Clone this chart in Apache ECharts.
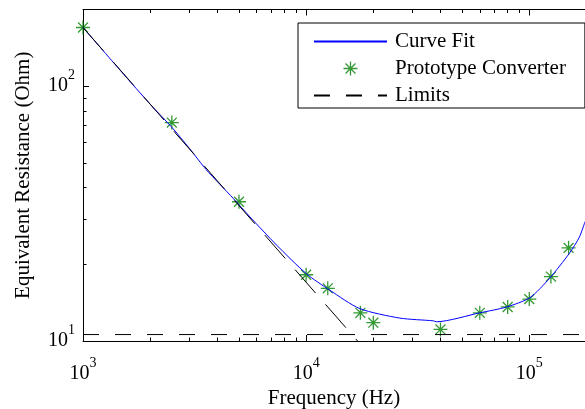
<!DOCTYPE html>
<html>
<head>
<meta charset="utf-8">
<script src="https://cdn.jsdelivr.net/npm/echarts@6/dist/echarts.min.js"></script>
<style>
html,body{margin:0;padding:0;background:#fff}
#chart{width:585px;height:409px}
</style>
</head>
<body>
<div id="chart"></div>
<script>
// measured points (Hz, Ohm)
var measFreq = [1000, 2500, 5000, 10000, 12500, 17500, 20000, 40000, 60000, 80000, 100000, 125000, 150000];
var measRes = [170, 72, 35.2, 18.2, 16.1, 12.9, 11.8, 11.1, 12.9, 13.6, 14.6, 17.9, 23.2];
// curve fit
var fitFreq = [1000, 1500, 2000, 2500, 3000, 3570, 4710, 5600, 7370, 10000, 12800, 17400, 26300, 37100, 38400, 60000, 79200, 100700, 123100, 151300, 167800, 177700];
var fitRes = [170, 113, 85, 69, 57, 47, 36.3, 30.7, 23.8, 18.4, 15.8, 13.4, 12.3, 12.0, 11.9, 12.9, 13.6, 14.8, 17.6, 22.1, 25.6, 29.4];
// limit lines
var floorFreq = [1000, 177700];
var floorRes = [10.6, 10.6];
var slopeFreq = [1000, 17000];
var slopeRes = [170, 10];
// axes
var xMin = 1000, xMax = 177700;
var yMin = 10, yMax = 200;
var xMajor = [1000, 10000, 100000];
var xMinor = [2000, 3000, 4000, 5000, 6000, 7000, 8000, 9000, 20000, 30000, 40000, 50000, 60000, 70000, 80000, 90000];
var yMajor = [10, 100];
var yMinor = [20, 30, 40, 50, 60, 70, 80, 90, 200];

var serif = "'Liberation Serif', 'Times New Roman', serif";
var chart = echarts.init(document.getElementById('chart'));

function pairs(xs, ys) {
	return xs.map(function (x, i) { return [x, ys[i]]; });
}
function powLabel(v) {
	return '{b|10}{s|' + Math.round(Math.log10(v)) + '}';
}
var rich = {
	b: { fontSize: 20, lineHeight: 20, fontFamily: serif, color: '#000' },
	s: { fontSize: 14, lineHeight: 14, fontFamily: serif, color: '#000', padding: [0, 0, 22, 0] }
};
var black = { color: '#000', width: 1 };
var starPath = 'path://M5,0 L5,10 M0,5 L10,5 M1.46,1.46 L8.54,8.54 M8.54,1.46 L1.46,8.54';
var titleFont = { fontSize: 21, fontFamily: serif, color: '#000' };

function xAx(grid, pos, ticks, len, main) {
	return {
		type: 'log', logBase: 10, min: xMin, max: xMax, gridIndex: grid, position: pos,
		axisLine: { show: main, lineStyle: black },
		axisTick: { show: true, inside: true, length: len, customValues: ticks, lineStyle: black },
		axisLabel: main && pos === 'bottom'
			? { customValues: xMajor, formatter: powLabel, rich: rich, margin: 23 }
			: { show: false },
		splitLine: { show: false },
		minorTick: { show: false }
	};
}
function yAx(grid, ticks, len, main) {
	return {
		type: 'log', logBase: 10, min: yMin, max: yMax, gridIndex: grid, position: 'left',
		axisLine: { show: main, lineStyle: black },
		axisTick: { show: true, inside: true, length: len, customValues: ticks, lineStyle: black },
		axisLabel: main ? { customValues: yMajor, formatter: powLabel, rich: rich, margin: 8 } : { show: false },
		splitLine: { show: false }
	};
}

var xMainBottom = xAx(0, 'bottom', xMajor, 6, true);
xMainBottom.name = 'Frequency (Hz)';
xMainBottom.nameLocation = 'middle';
xMainBottom.nameGap = 47;
xMainBottom.nameMoveOverlap = false;
xMainBottom.nameTextStyle = titleFont;
var yMainLeft = yAx(0, yMajor, 6, true);
yMainLeft.name = 'Equivalent Resistance (Ohm)';
yMainLeft.nameLocation = 'middle';
yMainLeft.nameGap = 49;
yMainLeft.nameMoveOverlap = false;
yMainLeft.nameTextStyle = titleFont;

var gridBox = { left: 83, right: 0, top: 9.5, bottom: 68, containLabel: false, outerBoundsMode: 'none' };

var option = {
	animation: false,
	backgroundColor: '#fff',
	grid: [gridBox, gridBox],
	xAxis: [
		xMainBottom,
		xAx(0, 'top', xMajor, 6, true),
		xAx(1, 'bottom', xMinor, 3.5, false),
		xAx(1, 'top', xMinor, 3.5, false)
	],
	yAxis: [
		yMainLeft,
		yAx(1, yMinor, 3.5, false)
	],
	legend: {
		orient: 'vertical', left: 298, top: 23,
		data: [
			{ name: 'Curve Fit' },
			{ name: 'Prototype Converter', itemStyle: { borderWidth: 1.3 } },
			{ name: 'Limits' }
		],
		itemWidth: 73, itemHeight: 14, itemGap: 6,
		padding: [8, 19, 2, 15],
		borderColor: '#000', borderWidth: 1, borderRadius: 0,
		backgroundColor: '#fff',
		symbolKeepAspect: true,
		textStyle: { fontSize: 21, lineHeight: 21, fontFamily: serif, color: '#000', padding: [0, 0, 0, 3] }
	},
	series: [
		{
			name: 'Curve Fit', type: 'line', xAxisIndex: 0, yAxisIndex: 0,
			data: pairs(fitFreq, fitRes), showSymbol: false, symbol: 'none', smooth: 0.25,
			lineStyle: { color: '#0000ff', width: 1 }, itemStyle: { color: 'rgba(0,0,0,0)' }
		},
		{
			name: 'Prototype Converter', type: 'scatter', xAxisIndex: 0, yAxisIndex: 0,
			data: pairs(measFreq, measRes), symbol: starPath, symbolSize: 14,
			itemStyle: { color: 'rgba(0,0,0,0)', borderColor: '#008000', borderWidth: 1.3 }
		},
		{
			name: 'Limits', type: 'line', xAxisIndex: 0, yAxisIndex: 0,
			data: pairs(floorFreq, floorRes), symbol: 'none',
			lineStyle: { color: '#000', width: 1, type: [16, 16] }, itemStyle: { color: 'rgba(0,0,0,0)' }
		},
		{
			name: 'Limits', type: 'line', xAxisIndex: 0, yAxisIndex: 0,
			data: pairs(slopeFreq, slopeRes), symbol: 'none',
			lineStyle: { color: '#000', width: 1, type: [31, 15] }, itemStyle: { color: 'rgba(0,0,0,0)' }
		}
	]
};
chart.setOption(option);
</script>
</body>
</html>
